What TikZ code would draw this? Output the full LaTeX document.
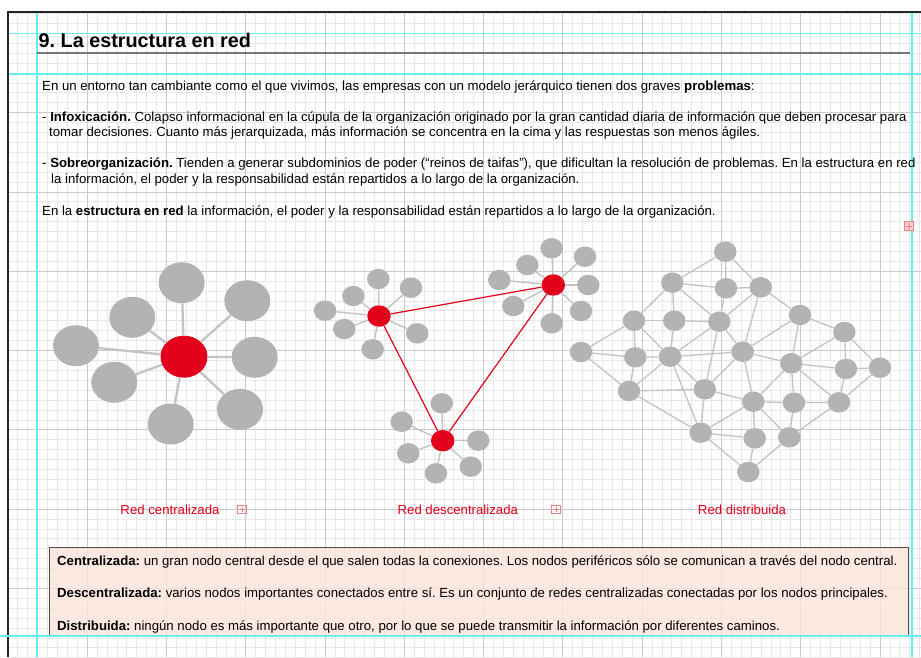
\documentclass[tikz,border=0pt]{standalone}
\usepackage{fontspec}
\setmainfont{Liberation Sans}
\usetikzlibrary{shapes.geometric}
\definecolor{nodegray}{RGB}{178,179,181}
\definecolor{linkgray}{RGB}{194,195,197}
\definecolor{redA}{RGB}{226,0,26}
\definecolor{peach}{RGB}{252,228,216}
\definecolor{cyanA}{RGB}{100,240,240}
\definecolor{gridfine}{RGB}{232,232,232}
\definecolor{gridmajor}{RGB}{202,202,202}
\definecolor{plusred}{RGB}{238,130,130}
\definecolor{pluspink}{RGB}{250,205,205}
\definecolor{rulegray}{RGB}{120,120,120}
\tikzset{
  bignode/.style={ellipse, fill=nodegray, minimum width=46pt, minimum height=41pt, inner sep=0pt},
  hubbig/.style={ellipse, fill=redA, minimum width=47pt, minimum height=42pt, inner sep=0pt},
  smallnode/.style={ellipse, fill=nodegray, minimum width=22.5pt, minimum height=20.5pt, inner sep=0pt},
  hubsmall/.style={ellipse, fill=redA, minimum width=23.5pt, minimum height=21.5pt, inner sep=0pt},
  centlink/.style={draw=linkgray, line width=2.3pt},
  satlink/.style={draw=linkgray, line width=1.4pt},
  redlink/.style={draw=redA, line width=1.2pt},
  dlink/.style={draw=linkgray, line width=1.3pt},
  body/.style={anchor=base west, inner sep=0pt, font=\fontsize{13.2}{15}\selectfont},
  netlabel/.style={anchor=base, inner sep=0pt, text=redA, font=\fontsize{13.2}{15}\selectfont},
  plusbox/.style={draw=plusred, line width=0.7pt, minimum size=8.5pt, inner sep=0pt,
    path picture={\draw[plusred, line width=0.7pt]
      ([xshift=-2.6pt]path picture bounding box.center) -- ([xshift=2.6pt]path picture bounding box.center)
      ([yshift=-2.6pt]path picture bounding box.center) -- ([yshift=2.6pt]path picture bounding box.center);}},
}
\begin{document}
\frenchspacing
\begin{tikzpicture}[x=1pt,y=-1pt]
\useasboundingbox (0,0) rectangle (921,657);
\fill[white] (0,0) rectangle (921,657);
% fine grid
\foreach \i in {0,...,92} {\draw[gridfine, line width=1pt] ({8+9.91*\i},12) -- ({8+9.91*\i},657);}
\foreach \j in {-2,...,63} {\draw[gridfine, line width=1pt] (8,{33.5+9.91*\j}) -- (921,{33.5+9.91*\j});}
% major grid
\foreach \i in {0,...,11} {\draw[gridmajor, line width=1pt] ({8+79.28*\i},12) -- ({8+79.28*\i},657);}
\foreach \j in {0,...,7} {\draw[gridmajor, line width=1pt] (8,{33.5+79.28*\j}) -- (921,{33.5+79.28*\j});}
% guides
\draw[cyanA, line width=1.2pt] (37,12) -- (37,657);
\draw[cyanA, line width=1.2pt] (912,12) -- (912,657);
\draw[cyanA, line width=1.2pt] (8,33.5) -- (921,33.5);
\draw[cyanA, line width=1.2pt] (8,74) -- (921,74);
% frame
\draw[black!85, line width=1.3pt] (8,657) -- (8,12) -- (921,12);

% title
\node[anchor=base west, inner sep=0pt, font=\fontsize{19.8}{22}\selectfont\bfseries] (title) at (38.5,47.5) {9. La estructura en red};
\draw[rulegray, line width=2pt] (37,52.5) -- (910,52.5);

% body text
\node[body] (t1) at (42,90) {En un entorno tan cambiante como el que vivimos, las empresas con un modelo jerárquico tienen dos graves \textbf{problemas}:};
\node[body] (t2) at (42,121) {- \textbf{Infoxicación.} Colapso informacional en la cúpula de la organización originado por la gran cantidad diaria de información que deben procesar para};
\node[body] (t3) at (49,136) {tomar decisiones. Cuanto más jerarquizada, más información se concentra en la cima y las respuestas son menos ágiles.};
\node[body] (t4) at (42,167) {- \textbf{Sobreorganización.} Tienden a generar subdominios de poder (“reinos de taifas”), que dificultan la resolución de problemas. En la estructura en red};
\node[body] (t5) at (51,183) {la información, el poder y la responsabilidad están repartidos a lo largo de la organización.};
\node[body] (t6) at (42,215) {En la \textbf{estructura en red} la información, el poder y la responsabilidad están repartidos a lo largo de la organización.};
\node[plusbox, fill=pluspink] (p0) at (909,226) {};

% ---- centralized network
\node[hubbig] (ch) at (184,356.7) {};
\foreach \n/\x/\y in {c1/181.7/282.7, c2/247.3/300.7, c3/132.3/317.3, c4/76/345.7, c5/254.7/357.3, c6/114.3/382.3, c7/240/409.3, c8/170.7/424}
  {\node[bignode] (\n) at (\x,\y) {};}
\foreach \n in {c1,c2,c3,c4,c5,c6,c7,c8} {\draw[centlink] (ch) -- (\n);}

% ---- decentralized network
\node[hubsmall] (dA) at (379,316) {};
\node[hubsmall] (dB) at (553.3,285) {};
\node[hubsmall] (dC) at (442.7,440.7) {};
\foreach \n/\x/\y in {a1/378.3/279, a2/353.3/296, a3/411/287.7, a4/325/310.7, a5/344.3/329, a6/417.3/333.3, a7/372.7/349.3}
  {\node[smallnode] (\n) at (\x,\y) {}; \draw[satlink] (dA) -- (\n);}
\foreach \n/\x/\y in {b1/551.7/248.3, b2/585/256.7, b3/527.3/265, b4/499.3/280, b5/588.3/285, b6/513.3/306, b7/581/311, b8/551.7/323.3}
  {\node[smallnode] (\n) at (\x,\y) {}; \draw[satlink] (dB) -- (\n);}
\foreach \n/\x/\y in {e1/441.7/403.3, e2/401.7/421.7, e3/478.3/440.7, e4/408.3/453.3, e5/470.7/466.7, e6/436/473.3}
  {\node[smallnode] (\n) at (\x,\y) {}; \draw[satlink] (dC) -- (\n);}
\draw[redlink] (dA) -- (dB);
\draw[redlink] (dA) -- (dC);
\draw[redlink] (dB) -- (dC);

% ---- distributed network
\foreach \n/\x/\y in {1/725.3/251.7, 2/672.3/282.7, 3/726/288.3, 4/760.7/287.3, 5/634/320.7, 6/674.3/320.7, 7/719.3/321.7, 8/800/315, 9/844.3/332, 10/581/352, 11/635.3/357.3, 12/670/356.7, 13/742.7/351.7, 14/791.3/363.3, 15/846/369, 16/880/367.7, 17/629/391, 18/704.7/389.3, 19/753.3/401.7, 20/794/402.7, 21/839/402.3, 22/700.7/432.7, 23/754.7/438.3, 24/789.3/437.3, 25/748.3/472}
  {\node[smallnode] (n\n) at (\x,\y) {};}
\foreach \a/\b in {1/2,1/3,1/4,2/3,3/4,2/5,2/6,2/7,3/7,4/7,4/8,4/13,5/6,5/10,5/11,5/12,6/7,6/12,7/12,7/13,7/18,8/13,8/9,8/14,9/14,9/15,9/16,10/11,10/17,11/12,11/17,12/13,12/17,12/18,12/22,13/14,13/18,13/19,14/15,14/19,14/20,14/21,15/16,15/21,16/21,17/18,17/22,18/19,18/22,19/20,19/22,19/23,19/24,20/21,20/24,21/24,22/23,22/25,23/25,24/25}
  {\draw[dlink] (n\a) -- (n\b);}

% labels
\node[netlabel] (l1) at (170,514) {Red centralizada};
\node[plusbox] (p1) at (242,509.5) {};
\node[netlabel] (l2) at (457.8,514) {Red descentralizada};
\node[plusbox] (p2) at (556,509.5) {};
\node[netlabel] (l3) at (742,514) {Red distribuida};

% bottom box
\node[draw=black!70, line width=1.3pt, fill=peach, fill opacity=0.8, anchor=north west, minimum width=858.7pt, minimum height=89pt, inner sep=0pt] (box) at (49,546.7) {};
\draw[cyanA, line width=1.2pt] (0,636) -- (921,636);
\node[body] (b1) at (57,565) {\textbf{Centralizada:} un gran nodo central desde el que salen todas la conexiones. Los nodos periféricos sólo se comunican a través del nodo central.};
\node[body] (b2) at (57,597) {\textbf{Descentralizada:} varios nodos importantes conectados entre sí. Es un conjunto de redes centralizadas conectadas por los nodos principales.};
\node[body] (b3) at (57,630) {\textbf{Distribuida:} ningún nodo es más importante que otro, por lo que se puede transmitir la información por diferentes caminos.};
\end{tikzpicture}
\end{document}
